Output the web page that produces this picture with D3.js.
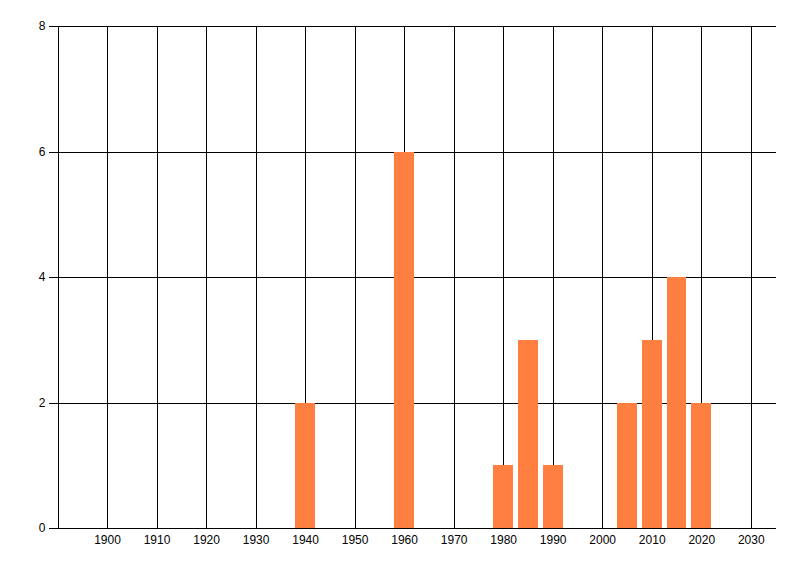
<!DOCTYPE html>
<html>
<head>
<meta charset="utf-8">
<script src="https://cdn.jsdelivr.net/npm/d3@7"></script>
<style>
  body { margin: 0; background: #fff; }
  svg text { font-family: Tahoma, "Liberation Sans", Arial, sans-serif; font-size: 12px; fill: #000; }
</style>
</head>
<body>
<svg id="chart" width="800" height="576"></svg>
<script>
// values
const years = [1940, 1960, 1980, 1985, 1990, 2005, 2010, 2015, 2020];
const counts = [2, 6, 1, 3, 1, 2, 3, 4, 2];
const xTicks = [1900, 1910, 1920, 1930, 1940, 1950, 1960, 1970, 1980, 1990, 2000, 2010, 2020, 2030];
const yTicks = [0, 2, 4, 6, 8];

const BAR_YEARS = 4; // each bar spans about four years
const BAR_COLOR = '#ff7f40';

const svg = d3.select('#chart');
const x = d3.scaleLinear().domain([1890, 2035]).range([57.5, 775.5]);
const y = d3.scaleLinear().domain([0, 8]).range([528, 26]);

// horizontal gridlines + left ticks
let yAxis = d3.axisLeft(y)
  .tickValues(yTicks)
  .tickSizeInner(-(x.range()[1] - x.range()[0]))
  .tickSizeOuter(0)
  .tickPadding(12)
  .tickFormat(d3.format('d'));
let gy = svg.append('g')
  .attr('transform', `translate(${x.range()[0]},0)`)
  .call(yAxis);
gy.select('.domain').remove();
gy.selectAll('.tick line')
  .attr('x2', x.range()[1] - x.range()[0])
  .attr('x1', -9)
  .attr('stroke', '#000')
  .attr('shape-rendering', 'crispEdges');

// decade labels under the axis (no tick marks there)
let gx = svg.append('g')
  .attr('transform', `translate(0,${y(0)})`)
  .call(d3.axisBottom(x)
    .tickValues(xTicks)
    .tickSizeInner(0)
    .tickSizeOuter(0)
    .tickPadding(7)
    .tickFormat(d3.format('d')));
gx.select('.domain').remove();

// vertical gridlines at the decade ticks, plus the left edge
svg.append('g').selectAll('line')
  .data([1890].concat(xTicks))
  .join('line')
  .attr('x1', d => Math.round(x(d)) + 0.5)
  .attr('x2', d => Math.round(x(d)) + 0.5)
  .attr('y1', y(8))
  .attr('y2', y(0))
  .attr('stroke', '#000')
  .attr('shape-rendering', 'crispEdges');

// bars
const data = years.map((yr, i) => ({ year: yr, count: counts[i] }));
svg.append('g').selectAll('rect')
  .data(data)
  .join('rect')
  .attr('x', d => x(d.year - BAR_YEARS / 2))
  .attr('width', d => x(d.year + BAR_YEARS / 2) - x(d.year - BAR_YEARS / 2))
  .attr('y', d => y(d.count))
  .attr('height', d => y(0) - y(d.count))
  .attr('fill', BAR_COLOR)
  .attr('shape-rendering', 'crispEdges');

// redraw baseline on top of bars
svg.append('line')
  .attr('x1', 49).attr('x2', x.range()[1])
  .attr('y1', y(0) + 0.5).attr('y2', y(0) + 0.5)
  .attr('stroke', '#000')
  .attr('shape-rendering', 'crispEdges');
</script>
</body>
</html>
